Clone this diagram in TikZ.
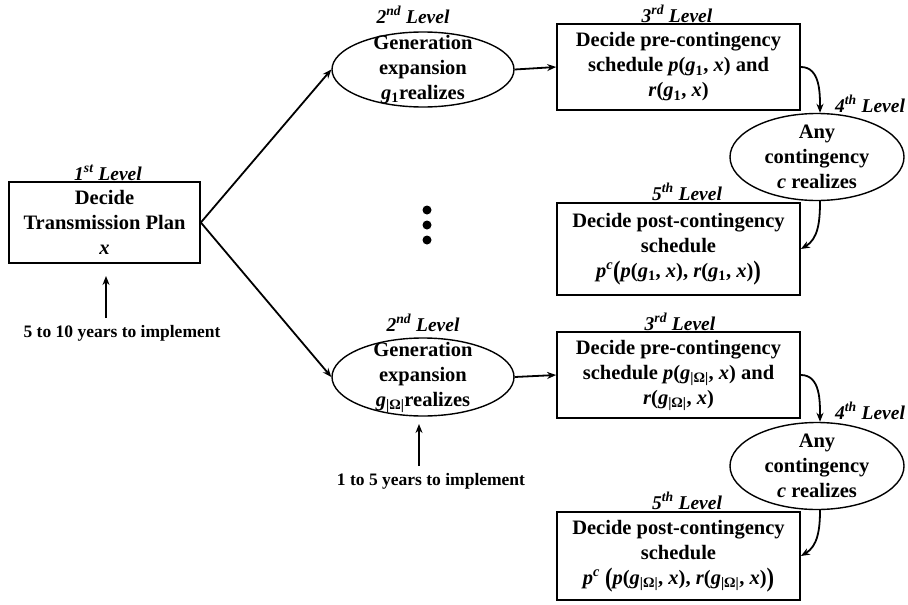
\documentclass[tikz,border=0pt]{standalone}
\usepackage{fontspec}
\usepackage{graphicx}
\setmainfont{Liberation Serif}
\usetikzlibrary{shapes.geometric,arrows.meta}

% bold italic variables set in the text font
\newcommand{\mv}[1]{\textit{#1}}
\newcommand{\lp}{\raisebox{-0.12em}{\scalebox{1.1}[1.3]{(}}}
\newcommand{\rp}{\raisebox{-0.12em}{\scalebox{1.1}[1.3]{)}}}

\begin{document}
\begin{tikzpicture}[x=1pt,y=-1pt,
  every node/.style={font=\bfseries\fontsize{20.5}{25}\selectfont, align=center, inner sep=0pt},
  box/.style={draw, line width=1.7pt, rectangle, minimum width=243pt},
  oval/.style={draw, line width=1.4pt, ellipse},
  lvl/.style={font=\bfseries\itshape\fontsize{19.5}{22}\selectfont},
  note/.style={font=\bfseries\fontsize{17.5}{20}\selectfont},
  arr/.style={-{Stealth[length=9pt,width=7pt]}, line width=1.8pt},
  dot/.style={circle, fill=black, minimum size=9pt},
]
\useasboundingbox (0,0) rectangle (908,605);

% first stage: transmission plan
\node[box, minimum width=191pt, minimum height=81pt] (plan) at (104.5,222.5)
  {Decide\\Transmission Plan\\\mv{x}};
\node[lvl] (l1) at (108,173) {1\textsuperscript{st} Level};
\node[note] (t1) at (122,333) {5 to 10 years to implement};
\coordinate (t1top) at (106,318);
\coordinate (t1tip) at (106,276);
\draw[arr] (t1top) -- (t1tip);

% generation scenarios
\node[oval, minimum width=182pt, minimum height=75pt] (g1) at (423,69.5) {};
\node (g1txt) at (423,69.5) {Generation\\expansion\\\mv{g}\textsubscript{1}realizes};
\node[lvl] (l2a) at (413,15) {2\textsuperscript{nd} Level};

\node[oval, minimum width=182pt, minimum height=78pt] (gW) at (423,377) {};
\node (gWtxt) at (423,377) {Generation\\expansion\\\mv{g}\textsubscript{|Ω|}realizes};
\node[lvl] (l2b) at (423,323) {2\textsuperscript{nd} Level};
\node[note] (t2) at (431,481) {1 to 5 years to implement};
\coordinate (t2top) at (419,466);
\coordinate (t2tip) at (419,424);
\draw[arr] (t2top) -- (t2tip);

\draw[arr] (plan.east) -- (g1.west);
\draw[arr] (plan.east) -- (gW.west);

% omitted scenarios
\node[dot] (d1) at (427,210) {};
\node[dot] (d2) at (427,225) {};
\node[dot] (d3) at (427,240) {};

% upper branch
\node[box, minimum height=86pt] (pre1) at (678.5,67)
  {Decide pre-contingency\\schedule \mv{p}(\mv{g}\textsubscript{1}, \mv{x}) and\\\mv{r}(\mv{g}\textsubscript{1}, \mv{x})};
\node[lvl] (l3a) at (677,14) {3\textsuperscript{rd} Level};
\draw[arr] (g1.east) -- (pre1.west);

\node[oval, minimum width=174pt, minimum height=87pt] (c1) at (817,157) {};
\node (c1txt) at (817,157) {Any\\contingency\\\mv{c} realizes};
\node[lvl] (l4a) at (870,104) {4\textsuperscript{th} Level};
\draw[arr] (pre1.east) to[out=0,in=90] ([xshift=3pt]c1.north);

\node[box, minimum height=92pt] (post1) at (678.5,249)
  {Decide post-contingency\\schedule\\\mv{p}\textsuperscript{\mv{c}}\lp\mv{p}(\mv{g}\textsubscript{1}, \mv{x}), \mv{r}(\mv{g}\textsubscript{1}, \mv{x})\rp};
\node[lvl] (l5a) at (687,192) {5\textsuperscript{th} Level};
\draw[arr] ([xshift=3pt]c1.south) to[out=-90,in=30] (post1.east);

% lower branch
\node[box, minimum height=86pt] (pre2) at (678.5,375)
  {Decide pre-contingency\\schedule \mv{p}(\mv{g}\textsubscript{|Ω|}, \mv{x}) and\\\mv{r}(\mv{g}\textsubscript{|Ω|}, \mv{x})};
\node[lvl] (l3b) at (680,322) {3\textsuperscript{rd} Level};
\draw[arr] (gW.east) -- (pre2.west);

\node[oval, minimum width=174pt, minimum height=87pt] (c2) at (817,466) {};
\node (c2txt) at (817,466) {Any\\contingency\\\mv{c} realizes};
\node[lvl] (l4b) at (870,411) {4\textsuperscript{th} Level};
\draw[arr] (pre2.east) to[out=0,in=90] ([xshift=3pt]c2.north);

\node[box, minimum height=88pt] (post2) at (678.5,556)
  {Decide post-contingency\\schedule\\\mv{p}\textsuperscript{\mv{c}} \lp\mv{p}(\mv{g}\textsubscript{|Ω|}, \mv{x}), \mv{r}(\mv{g}\textsubscript{|Ω|}, \mv{x})\rp};
\node[lvl] (l5b) at (687,501) {5\textsuperscript{th} Level};
\draw[arr] ([xshift=3pt]c2.south) to[out=-90,in=30] (post2.east);
\end{tikzpicture}
\end{document}
